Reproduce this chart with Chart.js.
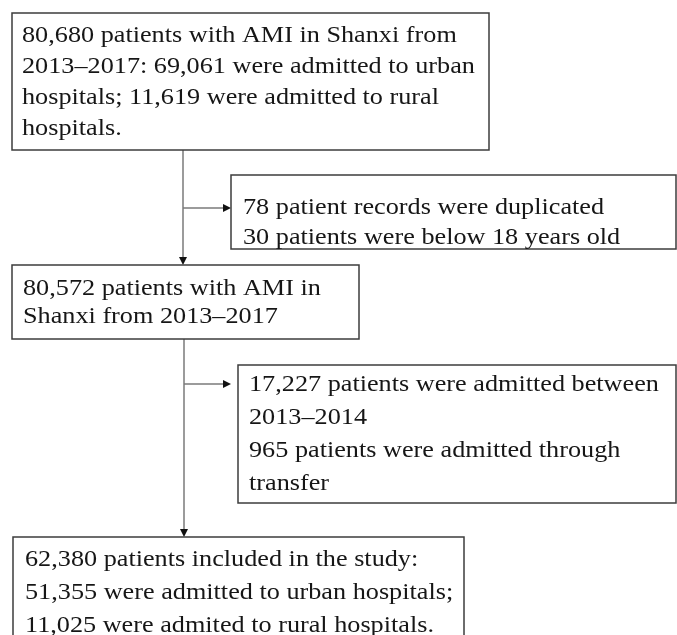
<!DOCTYPE html>
<html>
<head>
<meta charset="utf-8">
<script src="https://cdn.jsdelivr.net/npm/chart.js@4"></script>
<style>
  body { margin: 0; background: #fff; }
  #wrap { width: 677px; height: 635px; position: relative; }
</style>
</head>
<body>
<div id="wrap"><canvas id="flow"></canvas></div>
<script>
// box texts (flow of patient counts)
const startLines = ['80,680 patients with AMI in Shanxi from', '2013\u20132017: 69,061 were admitted to urban', 'hospitals; 11,619 were admitted to rural', 'hospitals.'];
const exclude1Lines = ['78 patient records were duplicated', '30 patients were below 18 years old'];
const middleLines = ['80,572 patients with AMI in', 'Shanxi from 2013\u20132017'];
const exclude2Lines = ['17,227 patients were admitted between', '2013\u20132014', '965 patients were admitted through', 'transfer'];
const finalLines = ['62,380 patients included in the study:', '51,355 were admitted to urban hospitals;', '11,025 were admited to rural hospitals.'];

// layout of the boxes in axis units (x 0..677, y 0..635 top-down)
const boxes = [
  { lines: startLines, x0: 12, x1: 489, y0: 13, y1: 150, tx: 22, ty: 42, lh: 31 },
  { lines: exclude1Lines, x0: 231, x1: 676, y0: 175, y1: 249, tx: 243, ty: 214, lh: 30 },
  { lines: middleLines, x0: 12, x1: 359, y0: 265, y1: 339, tx: 23, ty: 295, lh: 28 },
  { lines: exclude2Lines, x0: 238, x1: 676, y0: 365, y1: 503, tx: 249, ty: 391, lh: 33 },
  { lines: finalLines, x0: 13, x1: 464, y0: 537, y1: 660, tx: 25, ty: 566, lh: 33 }
];
const arrows = [
  { x0: 183, y0: 150, x1: 183, y1: 265 },
  { x0: 183, y0: 208, x1: 231, y1: 208 },
  { x0: 184, y0: 339, x1: 184, y1: 537 },
  { x0: 184, y0: 384, x1: 231, y1: 384 }
];
const textStretch = 1.14;

const flowPlugin = {
  id: 'flow',
  afterDraw(chart) {
    const ctx = chart.ctx;
    const sx = chart.scales.x, sy = chart.scales.y;
    const px = v => sx.getPixelForValue(v);
    const py = v => sy.getPixelForValue(v);
    ctx.save();
    // connectors
    arrows.forEach(a => {
      const x0 = px(a.x0), y0 = py(a.y0), x1 = px(a.x1), y1 = py(a.y1);
      ctx.strokeStyle = '#7a7a7a';
      ctx.lineWidth = 1.5;
      ctx.beginPath();
      ctx.moveTo(x0, y0);
      if (x0 === x1) ctx.lineTo(x1, y1 - 7); else ctx.lineTo(x1 - 7, y1);
      ctx.stroke();
      ctx.fillStyle = '#111';
      ctx.beginPath();
      if (x0 === x1) {
        ctx.moveTo(x1, y1);
        ctx.lineTo(x1 - 4, y1 - 8);
        ctx.lineTo(x1 + 4, y1 - 8);
      } else {
        ctx.moveTo(x1, y1);
        ctx.lineTo(x1 - 8, y1 - 4);
        ctx.lineTo(x1 - 8, y1 + 4);
      }
      ctx.closePath();
      ctx.fill();
    });
    // boxes with text
    boxes.forEach(b => {
      const x0 = px(b.x0), y0 = py(b.y0), x1 = px(b.x1), y1 = py(b.y1);
      ctx.fillStyle = '#fff';
      ctx.fillRect(x0, y0, x1 - x0, y1 - y0);
      ctx.strokeStyle = '#3c3c3c';
      ctx.lineWidth = 1.5;
      ctx.strokeRect(x0, y0, x1 - x0, y1 - y0);
      ctx.fillStyle = '#161616';
      ctx.font = '23px "Liberation Serif", "Times New Roman", serif';
      ctx.textBaseline = 'alphabetic';
      ctx.textAlign = 'left';
      b.lines.forEach((t, i) => {
        ctx.save();
        ctx.translate(px(b.tx), py(b.ty + i * b.lh));
        ctx.scale(textStretch, 1);
        ctx.fillText(t, 0, 0);
        ctx.restore();
      });
    });
    ctx.restore();
  }
};

new Chart(document.getElementById('flow'), {
  type: 'scatter',
  data: { datasets: [{ data: [] }] },
  options: {
    responsive: true,
    maintainAspectRatio: false,
    animation: false,
    layout: { padding: 0 },
    plugins: { legend: { display: false }, tooltip: { enabled: false } },
    scales: {
      x: { type: 'linear', min: 0, max: 677, display: false },
      y: { type: 'linear', min: 0, max: 635, reverse: true, display: false }
    }
  },
  plugins: [flowPlugin]
});
</script>
</body>
</html>
